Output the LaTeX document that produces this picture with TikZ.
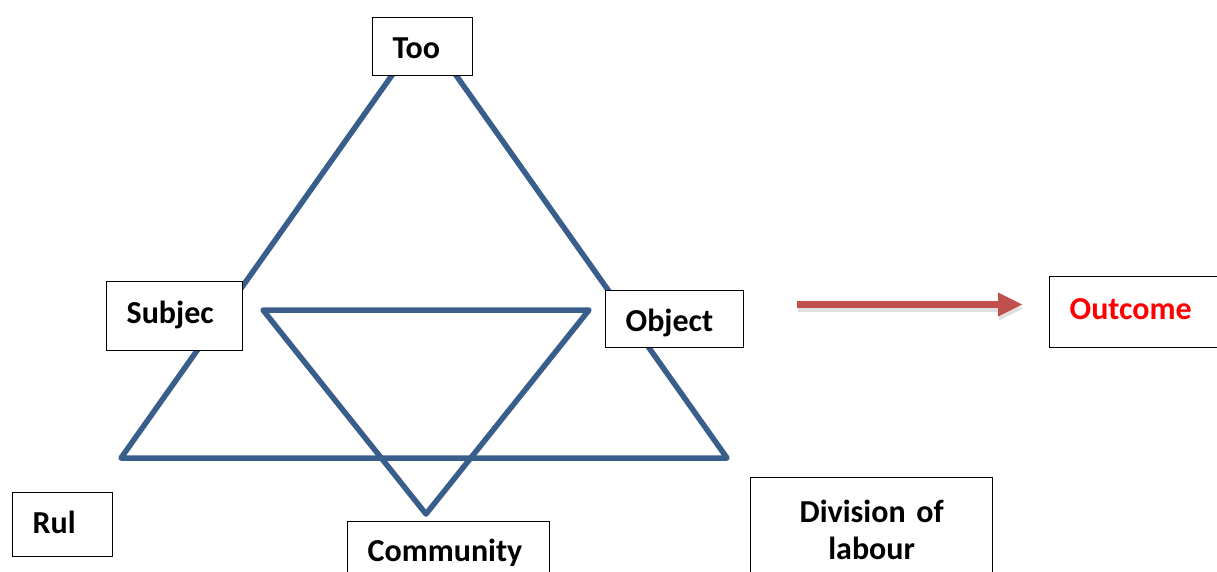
\documentclass[tikz,border=0pt]{standalone}
\usepackage{fontspec}
\setmainfont{Carlito}
\usetikzlibrary{arrows.meta}
\definecolor{tricol}{RGB}{58,94,140}
\definecolor{arrcol}{RGB}{192,80,77}
\definecolor{outred}{RGB}{255,0,0}
\begin{document}
\begin{tikzpicture}[x=1pt,y=-1pt,
  box/.style={draw=black,line width=1.3pt,fill=white,anchor=north west,
    font=\fontsize{32}{37}\selectfont\bfseries,inner xsep=20pt,inner ysep=0pt,align=left},
  tri/.style={draw=tricol,line width=5.5pt,line join=round,line cap=round},
  bigarrow/.style={draw=arrcol,line width=7pt,-{Triangle[length=24pt,width=24pt,line width=0pt]}},
  arrshadow/.style={draw=black!35,opacity=0.35,line width=7pt,-{Triangle[length=24pt,width=24pt,line width=0pt]}}]
\useasboundingbox (0,0) rectangle (1217,571);
\clip (0,0) rectangle (1217,571);
% triangles
\draw[tri] (424,30) -- (121,458) -- (727,458) -- cycle;
\draw[tri] (263,310) -- (589,310) -- (426,514) -- cycle;
% boxes
\node[box,text width=60pt,text height=41pt,text depth=17pt] (tool) at (372,17) {Too};
\node[box,text width=96pt,text height=42pt,text depth=27pt] (subject) at (106,281) {Subjec};
\node[box,text width=98pt,text height=41pt,text depth=16pt] (object) at (605,290) {Object};
\node[box,text width=160pt,text height=43pt,text depth=28pt,text=outred] (outcome) at (1049,276) {Outcome};
\node[box,text width=60pt,text height=41pt,text depth=23pt] (rules) at (12,492) {Rul};
\node[box,text width=162pt,text height=40pt,text depth=30pt] (community) at (347,521) {Community};
\node[box,text width=202pt,text height=45pt,text depth=69pt,align=center] (division) at (750,477) {Division of\\labour};
% arrow
\coordinate (a1) at (797,304.5);
\coordinate (a2) at (1022,304.5);
\draw[arrshadow] ([shift={(1,4)}]a1) -- ([shift={(1,4)}]a2);
\draw[bigarrow] (a1) -- (a2);
\end{tikzpicture}
\end{document}
